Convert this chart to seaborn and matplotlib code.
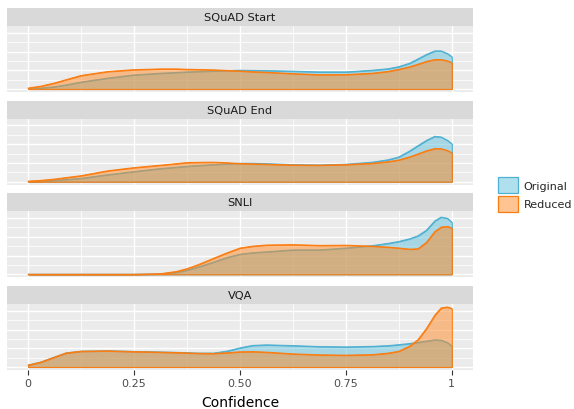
import numpy as np
import pandas as pd
import matplotlib
matplotlib.use("Agg")
import matplotlib.pyplot as plt
import seaborn as sns
from matplotlib.colors import to_rgba
from matplotlib.patches import Patch

# ---------------- data ----------------
datasets = ["SQuAD Start", "SQuAD End", "SNLI", "VQA"]
series = ["Original", "Reduced"]

x_grid = [0, 0.03, 0.0625, 0.09, 0.125, 0.1875, 0.25, 0.3125, 0.35, 0.375, 0.4,
          0.4375, 0.47, 0.5, 0.53, 0.5625, 0.625, 0.6875, 0.75, 0.8125, 0.85,
          0.875, 0.9, 0.92, 0.94, 0.96, 0.975, 0.99, 1.0]

squad_start_original = [0.0, 0.05, 0.12, 0.22, 0.37, 0.58, 0.75, 0.84, 0.88, 0.91, 0.93,
                        0.96, 0.98, 1.0, 0.99, 0.98, 0.95, 0.91, 0.91, 1.0, 1.08,
                        1.19, 1.37, 1.6, 1.84, 2.03, 2.03, 1.88, 1.72]
squad_start_reduced = [0.05, 0.15, 0.32, 0.5, 0.72, 0.93, 1.03, 1.07, 1.07, 1.05, 1.04,
                       1.02, 0.99, 0.96, 0.92, 0.89, 0.82, 0.76, 0.77, 0.84, 0.94,
                       1.05, 1.18, 1.32, 1.47, 1.57, 1.57, 1.5, 1.40]
squad_end_original = [0.0, 0.03, 0.07, 0.12, 0.18, 0.37, 0.54, 0.70, 0.77, 0.82, 0.86,
                      0.91, 0.95, 0.98, 0.98, 0.96, 0.91, 0.89, 0.93, 1.04, 1.17,
                      1.32, 1.63, 1.92, 2.2, 2.42, 2.38, 2.2, 2.02]
squad_end_reduced = [0.03, 0.07, 0.14, 0.22, 0.32, 0.58, 0.75, 0.88, 0.96, 1.02, 1.03,
                     1.04, 1.01, 0.97, 0.95, 0.93, 0.89, 0.88, 0.91, 0.98, 1.07,
                     1.16, 1.32, 1.48, 1.65, 1.77, 1.76, 1.66, 1.54]
snli_original = [0, 0, 0, 0, 0, 0, 0, 0.02, 0.1, 0.22, 0.38,
                 0.65, 0.9, 1.07, 1.15, 1.2, 1.3, 1.3, 1.4, 1.53, 1.65,
                 1.75, 1.89, 2.05, 2.35, 2.85, 3.05, 2.98, 2.77]
snli_reduced = [0, 0, 0, 0, 0, 0, 0, 0.03, 0.15, 0.3, 0.5,
                0.85, 1.15, 1.40, 1.5, 1.56, 1.58, 1.54, 1.55, 1.5, 1.45,
                1.40, 1.34, 1.36, 1.7, 2.28, 2.52, 2.55, 2.46]
vqa_original = [0.1, 0.26, 0.53, 0.75, 0.84, 0.86, 0.83, 0.80, 0.78, 0.76, 0.74,
                0.74, 0.85, 1.02, 1.15, 1.18, 1.14, 1.09, 1.07, 1.1, 1.14,
                1.19, 1.25, 1.31, 1.38, 1.45, 1.43, 1.3, 1.11]
vqa_reduced = [0.1, 0.26, 0.53, 0.75, 0.84, 0.86, 0.82, 0.79, 0.77, 0.75, 0.73,
               0.72, 0.76, 0.81, 0.82, 0.79, 0.70, 0.65, 0.63, 0.66, 0.74,
               0.84, 1.11, 1.45, 2.05, 2.77, 3.15, 3.2, 3.12]

x_ticks = [0, 0.25, 0.5, 0.75, 1]
x_tick_labels = ["0", "0.25", "0.50", "0.75", "1"]
x_label = "Confidence"

values = {
    ("SQuAD Start", "Original"): squad_start_original,
    ("SQuAD Start", "Reduced"): squad_start_reduced,
    ("SQuAD End", "Original"): squad_end_original,
    ("SQuAD End", "Reduced"): squad_end_reduced,
    ("SNLI", "Original"): snli_original,
    ("SNLI", "Reduced"): snli_reduced,
    ("VQA", "Original"): vqa_original,
    ("VQA", "Reduced"): vqa_reduced,
}
rows = []
for (d, s), ys in values.items():
    for xv, yv in zip(x_grid, ys):
        rows.append({"dataset": d, "series": s, "x": xv, "density": yv})
df = pd.DataFrame(rows)

# ---------------- styling ----------------
line_colors = {"Original": "#4fb1d1", "Reduced": "#fb7d12"}
fill_colors = {"Original": to_rgba("#62c0dc", 0.5), "Reduced": to_rgba("#ff8a25", 0.5)}

sns.set_style("white")
plt.rcParams["font.family"] = ["DejaVu Sans"]

W, H = 574, 410
fig = plt.figure(figsize=(W / 100, H / 100), dpi=100)

left_px, right_px = 7, 473
strip_h, panel_h = 18, 66
strip_tops = [9, 101.7, 194.3, 287]

ymax = max(max(v) for v in values.values())
ylim = (-0.05 * ymax, 1.05 * ymax)

for i, d in enumerate(datasets):
    st = strip_tops[i]
    # strip
    sax = fig.add_axes([left_px / W, 1 - (st + strip_h) / H,
                        (right_px - left_px) / W, strip_h / H])
    sax.set_facecolor("#d9d9d9")
    sax.set_xticks([]); sax.set_yticks([])
    for sp in sax.spines.values():
        sp.set_visible(False)
    sax.text(0.5, 0.5, d, ha="center", va="center", fontsize=8.2, color="#1a1a1a",
             transform=sax.transAxes)

    ax = fig.add_axes([left_px / W, 1 - (st + strip_h + panel_h) / H,
                       (right_px - left_px) / W, panel_h / H])
    ax.set_facecolor("#ebebeb")
    for sp in ax.spines.values():
        sp.set_visible(False)
    ax.set_xlim(-0.05, 1.05)
    ax.set_ylim(*ylim)
    ax.set_xticks(x_ticks)
    ax.set_xticks([0.125, 0.375, 0.625, 0.875], minor=True)
    ax.set_yticks([0, 1, 2, 3])
    ax.set_yticks([0.5, 1.5, 2.5], minor=True)
    ax.grid(which="major", color="white", linewidth=1.0)
    ax.grid(which="minor", color="white", linewidth=0.55)
    ax.set_axisbelow(True)
    ax.tick_params(axis="y", which="both", left=False, labelleft=False)
    ax.tick_params(axis="x", which="minor", bottom=False)

    for k, s in enumerate(series):
        sub = df[(df.dataset == d) & (df.series == s)]
        ax.fill_between(sub["x"].to_numpy(), sub["density"].to_numpy(), 0,
                        facecolor=fill_colors[s], edgecolor=line_colors[s],
                        linewidth=0.8, zorder=2 + k)
        sns.lineplot(data=sub, x="x", y="density", color=line_colors[s],
                     linewidth=0.8, ax=ax, zorder=2.5 + k, legend=False)
    ax.set_ylabel("")
    if i < len(datasets) - 1:
        ax.set_xlabel("")
        ax.tick_params(axis="x", which="major", bottom=False, labelbottom=False)
    else:
        ax.set_xticklabels(x_tick_labels)
        ax.tick_params(axis="x", which="major", bottom=True, length=3.5, width=0.8,
                       color="#333333", labelsize=8, labelcolor="#4d4d4d", pad=2)
        ax.set_xlabel(x_label, fontsize=10, color="black", labelpad=5)

handles = [Patch(facecolor=fill_colors[s], edgecolor=line_colors[s], linewidth=0.9, label=s)
           for s in series]
fig.legend(handles=handles, loc="center left", bbox_to_anchor=(498 / W, 1 - 195.5 / H),
           frameon=False, fontsize=8, handlelength=1.8, handleheight=1.8,
           handletextpad=0.5, labelspacing=0.25, borderpad=0, borderaxespad=0)

fig.savefig("out.png", dpi=100)
